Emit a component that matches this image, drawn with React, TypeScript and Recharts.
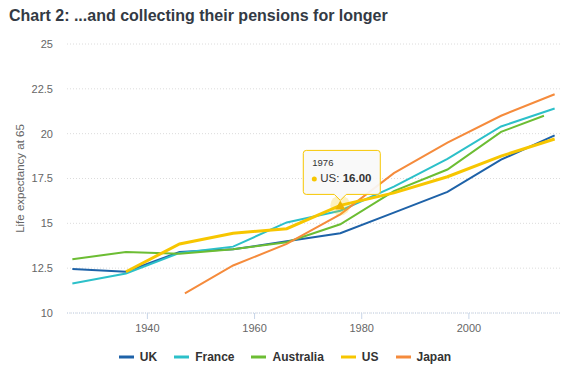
import React from 'react';
import { LineChart, Line, XAxis, YAxis, CartesianGrid, Legend, ReferenceDot } from 'recharts';

const years = [1926, 1936, 1946, 1956, 1966, 1976, 1986, 1996, 2006, 2016];
const ukValues = [12.45, 12.3, 13.4, 13.55, 14.0, 14.45, 15.6, 16.75, 18.55, 19.9];
const franceValues = [11.65, 12.2, 13.35, 13.7, 15.05, 15.7, 17.05, 18.6, 20.4, 21.4];
const australiaYears = [1926, 1936, 1946, 1956, 1966, 1976, 1986, 1996, 2006, 2014];
const australiaValues = [13.0, 13.4, 13.3, 13.55, 13.95, 14.95, 16.8, 18.0, 20.1, 21.0];
const usYears = [1936, 1946, 1956, 1966, 1976, 1986, 1996, 2006, 2016];
const usValues = [12.3, 13.85, 14.45, 14.7, 16.0, 16.7, 17.6, 18.75, 19.7];
const japanYears = [1947, 1956, 1966, 1976, 1986, 1996, 2006, 2016];
const japanValues = [11.1, 12.65, 13.85, 15.5, 17.8, 19.5, 21.0, 22.2];

const seriesNames = ['UK', 'France', 'Australia', 'US', 'Japan'];
const yTicks = [10, 12.5, 15, 17.5, 20, 22.5, 25];
const xTicks = [1940, 1960, 1980, 2000];
const tipYear = 1976;
const tipValue = 16.0;

const colors: Record<string, string> = {
  UK: '#1e62a8',
  France: '#2cc0c9',
  Australia: '#6cbd33',
  US: '#f7c600',
  Japan: '#f58b3c',
};

const font = '"Liberation Sans", Arial, sans-serif';

const toPoints = (xs: number[], vs: number[]) => xs.map((year, i) => ({ year, value: vs[i] }));

const TipMarker = (props: any) => {
  const { cx, cy } = props;
  if (cx == null || cy == null) return null;
  const w = 77;
  const h = 44;
  const left = cx - 37;
  const top = cy - 55;
  const right = left + w;
  const bottom = top + h;
  const box = `M ${left + 3} ${top} H ${right - 3} Q ${right} ${top} ${right} ${top + 3} V ${bottom - 3} Q ${right} ${bottom} ${right - 3} ${bottom} H ${cx + 6} L ${cx} ${bottom + 6} L ${cx - 6} ${bottom} H ${left + 3} Q ${left} ${bottom} ${left} ${bottom - 3} V ${top + 3} Q ${left} ${top} ${left + 3} ${top} Z`;
  return (
    <g>
      <circle cx={cx} cy={cy} r={10} fill={colors.US} fillOpacity={0.25} />
      <path d={`M ${cx} ${cy - 5} L ${cx + 5} ${cy + 4} L ${cx - 5} ${cy + 4} Z`} fill="#eeb400" />
      <path d={box} fill="rgba(249,249,249,0.92)" stroke={colors.US} strokeWidth={1} />
      <text x={left + 9} y={top + 16} fontSize={9.5} fill="#333" fontFamily={font}>
        {tipYear}
      </text>
      <circle cx={left + 11} cy={top + 28.5} r={2.5} fill={colors.US} />
      <text x={left + 17} y={top + 32} fontSize={11.5} fill="#333" fontFamily={font}>
        US: <tspan fontWeight="bold">{tipValue.toFixed(2)}</tspan>
      </text>
    </g>
  );
};

const LegendContent = () => (
  <div
    style={{
      display: 'flex',
      justifyContent: 'center',
      alignItems: 'center',
      height: 20,
      paddingLeft: 10,
      fontFamily: font,
      fontSize: 12,
      fontWeight: 'bold',
      color: '#333',
    }}
  >
    {seriesNames.map((name) => (
      <div key={name} style={{ display: 'flex', alignItems: 'center', margin: '0 8.5px' }}>
        <svg width={15} height={4} style={{ marginRight: 6 }}>
          <line x1={0} y1={2} x2={15} y2={2} stroke={colors[name]} strokeWidth={3} />
        </svg>
        <span>{name}</span>
      </div>
    ))}
  </div>
);

const YLabel = (props: any) => {
  const vb = props.viewBox || { y: 44, height: 269 };
  const cy = vb.y + vb.height / 2;
  return (
    <text
      x={24}
      y={cy}
      transform={`rotate(-90, 24, ${cy})`}
      textAnchor="middle"
      fontSize={11.5}
      fill="#666"
      fontFamily={font}
    >
      Life expectancy at 65
    </text>
  );
};

export default function App() {
  return (
    <div style={{ position: 'absolute', left: 0, top: 0, width: 570, height: 383, background: '#fff' }}>
      <div
        style={{
          position: 'absolute',
          left: 9,
          top: 6,
          fontFamily: font,
          fontSize: 16,
          fontWeight: 'bold',
          color: '#333a44',
          lineHeight: '19px',
          whiteSpace: 'nowrap',
        }}
      >
        Chart 2: ...and collecting their pensions for longer
      </div>
      <LineChart width={570} height={383} margin={{ top: 44, right: 10, left: 0, bottom: 16 }}>
        <CartesianGrid vertical={false} stroke="#dcdcdc" strokeDasharray="1 2" />
        <XAxis
          dataKey="year"
          type="number"
          domain={[1925, 2017]}
          ticks={xTicks}
          allowDataOverflow
          height={34}
          tickSize={6}
          tickMargin={5}
          stroke="#c8d5e8"
          axisLine={{ stroke: '#c8d5e8', strokeDasharray: '1 1' }}
          tickLine={{ stroke: '#c8d5e8' }}
          tick={{ fontSize: 11, fill: '#666', fontFamily: font }}
        />
        <YAxis
          type="number"
          domain={[10, 25]}
          ticks={yTicks}
          width={67}
          axisLine={false}
          tickLine={false}
          tickSize={0}
          tickMargin={14}
          tick={{ fontSize: 11, fill: '#666', fontFamily: font }}
          label={<YLabel />}
        />
        <Legend verticalAlign="bottom" height={20} content={<LegendContent />} />
        <Line data={toPoints(years, ukValues)} dataKey="value" name="UK" stroke={colors.UK} strokeWidth={2} dot={false} isAnimationActive={false} />
        <Line data={toPoints(years, franceValues)} dataKey="value" name="France" stroke={colors.France} strokeWidth={2} dot={false} isAnimationActive={false} />
        <Line data={toPoints(australiaYears, australiaValues)} dataKey="value" name="Australia" stroke={colors.Australia} strokeWidth={2} dot={false} isAnimationActive={false} />
        <Line data={toPoints(japanYears, japanValues)} dataKey="value" name="Japan" stroke={colors.Japan} strokeWidth={2} dot={false} isAnimationActive={false} />
        <Line data={toPoints(usYears, usValues)} dataKey="value" name="US" stroke={colors.US} strokeWidth={3} dot={false} isAnimationActive={false} />
        <ReferenceDot x={tipYear} y={tipValue} shape={<TipMarker />} />
      </LineChart>
    </div>
  );
}
